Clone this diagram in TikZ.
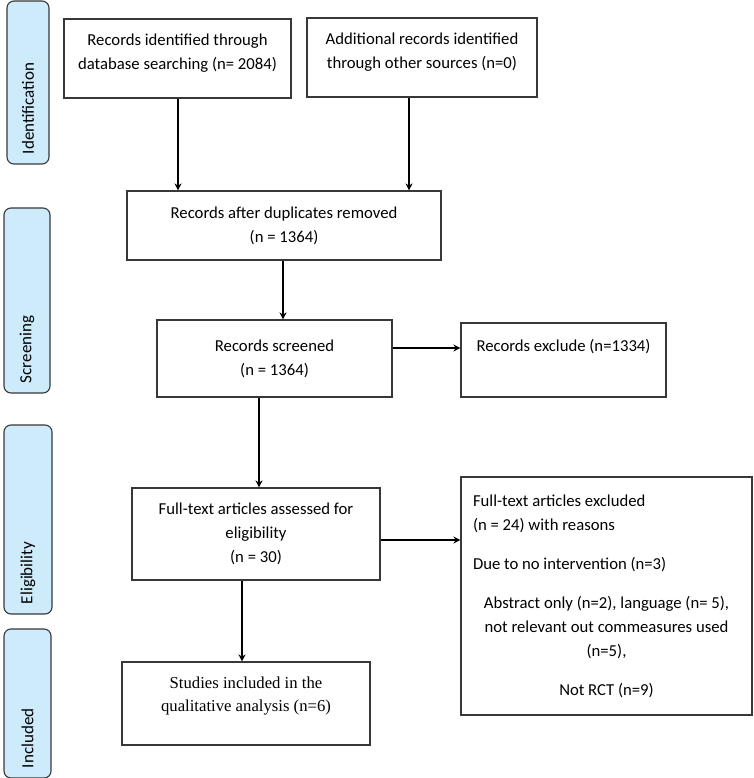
\documentclass[tikz,border=0pt]{standalone}
\usepackage{fontspec}
\setmainfont{Carlito}
\newfontfamily\serifbox{Liberation Serif}
\usetikzlibrary{arrows.meta, positioning}
\definecolor{colorStage}{RGB}{205,235,251}
\colorlet{colorFrame}{black!78}
\tikzset{
  box/.style={draw=colorFrame, line width=1.1pt, align=center, inner sep=0pt,
    font=\fontsize{16.7}{24}\selectfont},
  stage/.style={draw=colorFrame, fill=colorStage, rounded corners=7pt, line width=1.1pt,
    rotate=90, inner xsep=10pt, inner ysep=0pt, align=left, font=\fontsize{17}{20}\selectfont},
  flow/.style={-{Stealth[length=7pt,width=7pt]}, line width=1.1pt, black},
}

\begin{document}
\begin{tikzpicture}[x=1pt, y=-1pt]
\useasboundingbox (0,0) rectangle (753,778);
% stages
\node[stage, text width=143pt, minimum height=42pt] (sIdent) at (28,82.5) {Identification};
\node[stage, text width=165pt, minimum height=46pt] (sScreen) at (27,300.5) {Screening};
\node[stage, text width=169pt, minimum height=48pt] (sElig) at (28,519.5) {Eligibility};
\node[stage, text width=129pt, minimum height=47pt] (sIncl) at (27.5,703.5) {Included};
% boxes
\node[box, minimum width=227pt, minimum height=79pt, text depth=14pt] (qDb) at (177.5,58.5) {Records identified through\\database searching (n= 2084)};
\node[box, minimum width=230pt, minimum height=79pt, text depth=14pt] (qOther) at (422,57.5) {Additional records identified\\through other sources (n=0)};
\node[box, minimum width=314pt, minimum height=69pt] (qDup) at (284,225.5) {Records after duplicates removed\\(n = 1364)};
\node[box, minimum width=235pt, minimum height=77pt] (qScr) at (274.5,358.5) {Records screened\\(n = 1364)};
\node[box, minimum width=205pt, minimum height=74pt, text depth=30pt] (qExcl) at (563.5,360) {Records exclude (n=1334)};
\node[box, minimum width=248pt, minimum height=92pt] (qFull) at (256,534) {Full-text articles assessed for\\eligibility\\(n = 30)};
\node[box, minimum width=291pt, minimum height=238pt] (qFullExcl) at (606.5,596) {%
\makebox[267pt][l]{Full-text articles excluded}\\
\makebox[267pt][l]{(n = 24) with reasons}\\[15pt]
\makebox[267pt][l]{Due to no intervention (n=3)}\\[15pt]
Abstract only (n=2), language (n= 5),\\
not relevant out commeasures used\\
(n=5),\\[15pt]
Not RCT (n=9)};
\node[box, minimum width=248pt, minimum height=83pt, text depth=19pt, font=\serifbox\fontsize{16.7}{23}\selectfont] (qIncl) at (246,703.5) {Studies included in the\\qualitative analysis (n=6)};
% arrows
\draw[flow] ([xshift=0.5pt]qDb.south) -- ([xshift=0.5pt]qDb.south |- qDup.north);
\draw[flow] ([xshift=-13pt]qOther.south) -- ([xshift=-13pt]qOther.south |- qDup.north);
\draw[flow] ([xshift=-1pt]qDup.south) -- ([xshift=-1pt]qDup.south |- qScr.north);
\draw[flow] ([yshift=10.5pt]qScr.east) -- ([yshift=10.5pt]qScr.east -| qExcl.west);
\draw[flow] ([xshift=-15.5pt]qScr.south) -- ([xshift=-15.5pt]qScr.south |- qFull.north);
\draw[flow] ([yshift=-6pt]qFull.east) -- ([yshift=-6pt]qFull.east -| qFullExcl.west);
\draw[flow] ([xshift=-14pt]qFull.south) -- ([xshift=-14pt]qFull.south |- qIncl.north);
\end{tikzpicture}
\end{document}
